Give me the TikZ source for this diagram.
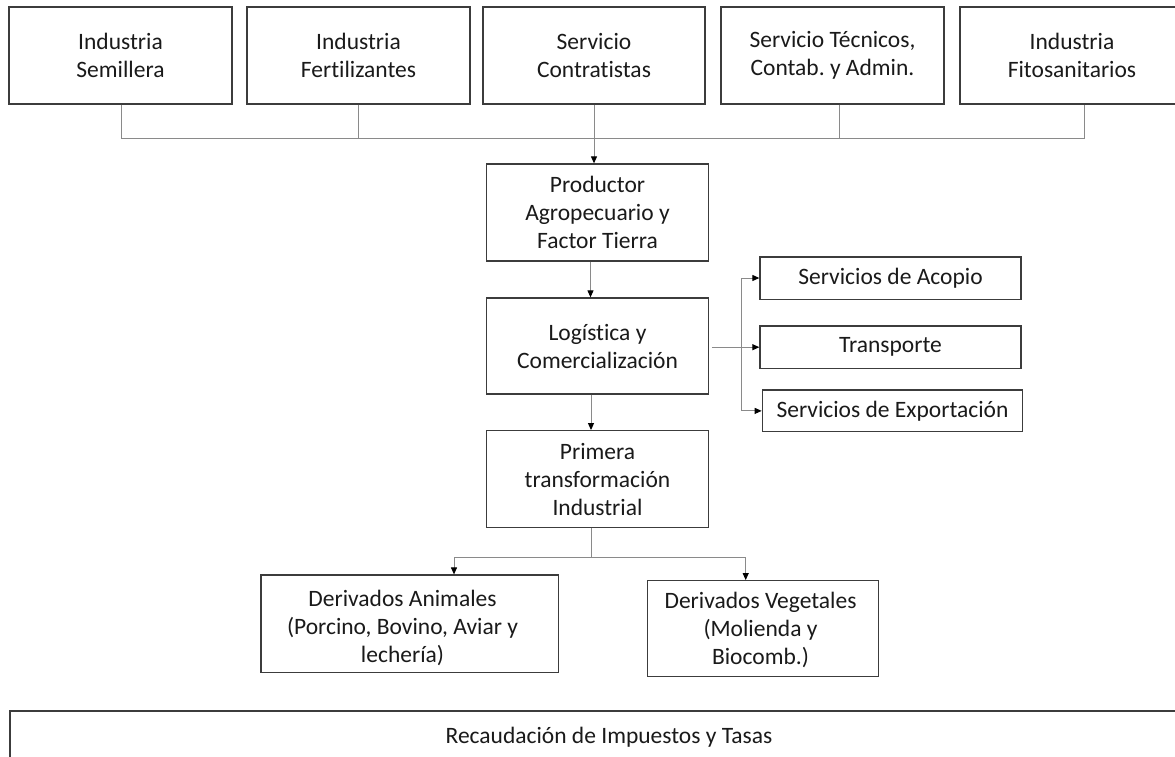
\documentclass[tikz,border=0pt]{standalone}
\usepackage{fontspec}
\setmainfont{Carlito}[Ligatures=NoCommon]
\frenchspacing
\usetikzlibrary{arrows.meta}
\definecolor{boxline}{HTML}{3C3C3C}
\definecolor{connline}{HTML}{8A8A8A}
\definecolor{txt}{HTML}{1A1A1A}
\tikzset{
  box/.style={draw=boxline, line width=1.3pt, fill=white, align=center, inner sep=2pt,
    text=txt, font=\fontsize{23.5}{28}\selectfont},
  lbl/.style={align=center, inner sep=0pt, text=txt, font=\fontsize{23.5}{28}\selectfont},
  conn/.style={draw=connline, line width=1pt},
  arr/.style={conn, -{Triangle[length=7pt,width=6pt,color=black]}}
}
\begin{document}
\begin{tikzpicture}[x=1pt,y=-1pt]
\useasboundingbox (0,0) rectangle (1175,757);
\clip (0,0) rectangle (1175,757);
\fill[white] (0,0) rectangle (1175,757);

% top row
\node[box, minimum width=223pt, minimum height=97pt] (b1) at (120.5,55.5) {Industria\\Semillera};
\node[box, minimum width=223pt, minimum height=97pt] (b2) at (358.5,55.5) {Industria\\Fertilizantes};
\node[box, minimum width=222pt, minimum height=97pt] (b3) at (594,55.5) {Servicio\\Contratistas};
\node[box, minimum width=223pt, minimum height=97pt] (b4) at (832.5,55.5) {Servicio Técnicos,\\Contab. y Admin.};
\node[box, minimum width=224pt, minimum height=97pt] (b5) at (1072,55.5) {Industria\\Fitosanitarios};

% central column
\node[box, minimum width=221.6pt, minimum height=97pt] (prod) at (597.5,212.5) {Productor\\Agropecuario y\\Factor Tierra};
\node[box, minimum width=221.6pt, minimum height=96pt] (log) at (597.5,346) {Logística y\\Comercialización};
\node[box, minimum width=221.6pt, minimum height=96.6pt] (prim) at (597.5,479) {Primera\\transformación\\Industrial};

% right column
\node[box, minimum width=261pt, minimum height=42.3pt] (acop) at (890.5,278) {Servicios de Acopio};
\node[box, minimum width=261pt, minimum height=42.3pt] (trans) at (890.5,347.2) {Transporte};
\node[box, minimum width=260.4pt, minimum height=41.7pt] (expo) at (892.5,410.9) {Servicios de Exportación};

% derived
\node[box, minimum width=297.3pt, minimum height=97.7pt] (anim) at (409.7,623.9) {};
\node[lbl] (animt) at (402.5,628) {Derivados Animales\\(Porcino, Bovino, Aviar y\\lechería)};
\node[box, minimum width=231pt, minimum height=96pt] (veg) at (762.8,628.7) {};
\node[lbl] (vegt) at (760.5,629.5) {Derivados Vegetales\\(Molienda y\\Biocomb.)};

% bottom box
\node[box, minimum width=1175pt, minimum height=60pt] (tax) at (597.5,741) {};
\node[lbl] (taxt) at (609,737) {Recaudación de Impuestos y Tasas};

% connectors top
\coordinate (j1) at (121,139);
\coordinate (j4) at (839,139);
\coordinate (j5) at (1084,139);
\draw[conn] (b1.south -| j1) -- (j1) -- (j5) -- (j5 |- b5.south);
\draw[conn] (b2.south) -- (b2.south |- j1);
\draw[conn] (j4 |- b4.south) -- (j4);
\draw[arr] (b3.south) -- (b3.south |- prod.north);

% central arrows
\draw[arr] ([xshift=-7pt]prod.south) -- ([xshift=-7pt]log.north);
\draw[arr] ([xshift=-6.5pt]log.south) -- ([xshift=-6.5pt]prim.north);

% right branch
\coordinate (spl) at (741,348);
\draw[arr] ([xshift=3pt]log.east |- trans.west) -- (trans.west);
\draw[conn] (spl |- acop.west) -- (spl |- expo.west);
\draw[arr] (spl |- acop.west) -- (acop.west);
\draw[arr] (spl |- expo.west) -- (expo.west);

% lower branch
\coordinate (d1) at (454,557.7);
\coordinate (d2) at (745.7,557.7);
\draw[conn] ([xshift=-6.5pt]prim.south) -- ([xshift=-6.5pt]prim.south |- d1);
\draw[arr] (d1 -| d2) -- (d1) -- (d1 |- anim.north);
\draw[arr] (d1 -| d2) -- (d2 |- veg.north);
\end{tikzpicture}
\end{document}
